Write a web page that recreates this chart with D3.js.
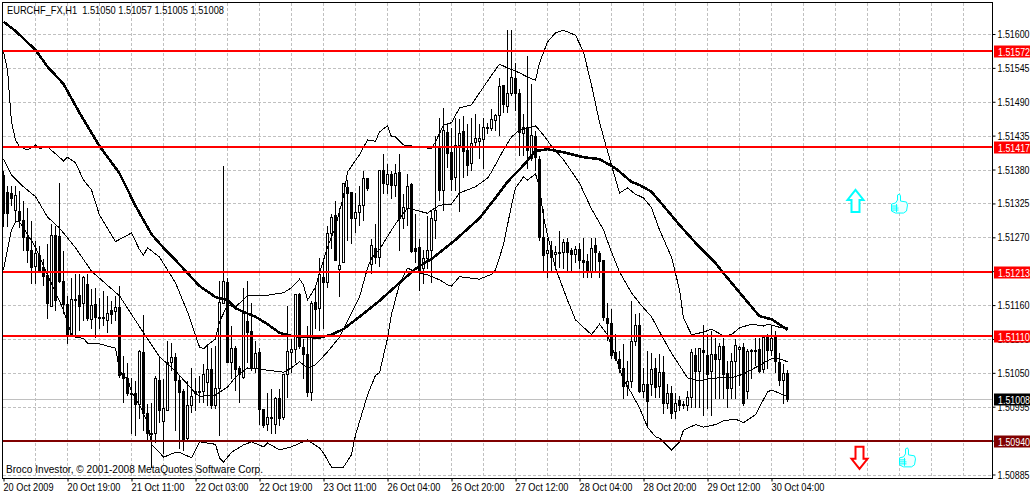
<!DOCTYPE html>
<html>
<head>
<meta charset="utf-8">
<style>
  html, body { margin: 0; padding: 0; background: #fff; }
  svg { display: block; font-family: "Liberation Sans", sans-serif; font-size: 11px; }
</style>
<script src="https://cdn.jsdelivr.net/npm/d3@7"></script>
</head>
<body>
<svg id="chart" width="1030" height="495"></svg>
<script>
// candles, one entry per H1 bar, oldest first
const opens = [1.51371,1.51344,1.51342,1.51314,1.51312,1.51298,1.51271,1.51250,1.51224,1.51241,1.51222,1.51209,1.51158,1.51274,1.51272,1.51199,1.51162,1.51113,1.51170,1.51176,1.51163,1.51194,1.51137,1.51162,1.51141,1.51139,1.51136,1.51152,1.51150,1.51157,1.51050,1.51042,1.51017,1.51017,1.51000,1.51084,1.50985,1.50951,1.50952,1.51038,1.50972,1.50990,1.51068,1.51076,1.51038,1.51021,1.50944,1.50998,1.51021,1.51019,1.51021,1.51035,1.51056,1.50998,1.51025,1.51163,1.51198,1.51068,1.51090,1.51058,1.51043,1.51134,1.51118,1.51058,1.51084,1.50991,1.50967,1.50979,1.50967,1.51009,1.50979,1.51048,1.51084,1.51089,1.51178,1.51092,1.51081,1.51019,1.51165,1.51155,1.51206,1.51198,1.51277,1.51306,1.51219,1.51230,1.51352,1.51344,1.51301,1.51311,1.51322,1.51366,1.51227,1.51253,1.51238,1.51380,1.51357,1.51373,1.51355,1.51376,1.51301,1.51317,1.51357,1.51253,1.51254,1.51220,1.51236,1.51250,1.51298,1.51415,1.51347,1.51441,1.51409,1.51368,1.51420,1.51443,1.51412,1.51390,1.51425,1.51426,1.51430,1.51447,1.51447,1.51460,1.51468,1.51517,1.51483,1.51504,1.51529,1.51504,1.51439,1.51449,1.51399,1.51434,1.51397,1.51271,1.51245,1.51250,1.51243,1.51246,1.51246,1.51262,1.51250,1.51243,1.51251,1.51233,1.51231,1.51215,1.51258,1.51245,1.51233,1.51139,1.51131,1.51084,1.51073,1.51058,1.51029,1.51037,1.51102,1.51128,1.51021,1.51032,1.51032,1.51058,1.51029,1.51051,1.51001,1.51017,1.50988,1.51006,1.50998,1.50998,1.51011,1.51079,1.51053,1.51087,1.51079,1.51053,1.51081,1.51073,1.51094,1.51050,1.51025,1.51069,1.51089,1.51092,1.51021,1.51087,1.51086,1.51089,1.51056,1.51108,1.51087,1.51108,1.51068,1.51038,1.51050];
const highs = [1.51380,1.51355,1.51355,1.51355,1.51347,1.51331,1.51319,1.51298,1.51266,1.51258,1.51236,1.51261,1.51293,1.51290,1.51360,1.51250,1.51176,1.51206,1.51212,1.51212,1.51209,1.51212,1.51188,1.51190,1.51173,1.51185,1.51176,1.51168,1.51176,1.51193,1.51079,1.51068,1.51043,1.51038,1.51089,1.51145,1.51001,1.51003,1.51046,1.51077,1.51042,1.51103,1.51100,1.51084,1.51046,1.51025,1.51038,1.51060,1.51043,1.51046,1.51066,1.51095,1.51092,1.51095,1.51201,1.51387,1.51206,1.51128,1.51095,1.51063,1.51190,1.51201,1.51165,1.51103,1.51092,1.50993,1.51019,1.51025,1.51012,1.51025,1.51050,1.51160,1.51106,1.51180,1.51181,1.51106,1.51128,1.51168,1.51193,1.51238,1.51233,1.51290,1.51309,1.51331,1.51319,1.51360,1.51365,1.51344,1.51344,1.51355,1.51380,1.51368,1.51269,1.51293,1.51380,1.51407,1.51390,1.51380,1.51390,1.51407,1.51342,1.51374,1.51360,1.51309,1.51269,1.51251,1.51306,1.51314,1.51436,1.51465,1.51482,1.51457,1.51449,1.51465,1.51464,1.51468,1.51456,1.51465,1.51472,1.51456,1.51465,1.51457,1.51480,1.51472,1.51530,1.51517,1.51608,1.51608,1.51555,1.51512,1.51472,1.51566,1.51520,1.51444,1.51404,1.51318,1.51271,1.51266,1.51258,1.51282,1.51269,1.51271,1.51254,1.51258,1.51262,1.51271,1.51245,1.51271,1.51271,1.51250,1.51233,1.51165,1.51155,1.51115,1.51087,1.51099,1.51071,1.51168,1.51147,1.51149,1.51060,1.51087,1.51084,1.51076,1.51082,1.51079,1.51034,1.51030,1.51019,1.51014,1.51006,1.51022,1.51090,1.51092,1.51090,1.51129,1.51115,1.51120,1.51108,1.51100,1.51108,1.51071,1.51084,1.51106,1.51095,1.51100,1.51090,1.51090,1.51108,1.51108,1.51108,1.51115,1.51128,1.51120,1.51084,1.51066,1.51057];
const lows = [1.51288,1.51288,1.51322,1.51295,1.51287,1.51250,1.51230,1.51196,1.51196,1.51214,1.51193,1.51139,1.51158,1.51152,1.51198,1.51147,1.51098,1.51112,1.51112,1.51120,1.51136,1.51136,1.51123,1.51108,1.51123,1.51128,1.51116,1.51131,1.51136,1.51043,1.51003,1.51014,1.50952,1.50949,1.50977,1.50957,1.50941,1.50897,1.50938,1.50970,1.50920,1.50990,1.51055,1.50957,1.50928,1.50925,1.50943,1.50987,1.50990,1.51003,1.51003,1.50998,1.50993,1.50993,1.50949,1.51163,1.51068,1.51042,1.51022,1.51003,1.51042,1.51068,1.51055,1.51051,1.50967,1.50962,1.50957,1.50952,1.50952,1.50965,1.50975,1.51011,1.51051,1.51068,1.51090,1.51042,1.51012,1.51006,1.51123,1.51120,1.51123,1.51190,1.51253,1.51233,1.51175,1.51230,1.51266,1.51261,1.51279,1.51290,1.51298,1.51347,1.51212,1.51228,1.51224,1.51342,1.51342,1.51334,1.51337,1.51250,1.51285,1.51290,1.51246,1.51230,1.51185,1.51196,1.51220,1.51198,1.51269,1.51331,1.51314,1.51384,1.51347,1.51347,1.51312,1.51368,1.51371,1.51380,1.51420,1.51399,1.51382,1.51439,1.51444,1.51444,1.51436,1.51473,1.51473,1.51501,1.51477,1.51404,1.51404,1.51382,1.51396,1.51380,1.51266,1.51217,1.51206,1.51217,1.51222,1.51222,1.51220,1.51217,1.51217,1.51230,1.51220,1.51206,1.51206,1.51206,1.51217,1.51206,1.51136,1.51103,1.51074,1.51071,1.51051,1.51009,1.51014,1.51027,1.51095,1.51019,1.51011,1.50962,1.51014,1.51011,1.51011,1.50985,1.50993,1.50977,1.50977,1.50990,1.50993,1.50990,1.50995,1.50995,1.50995,1.50982,1.50993,1.50982,1.51009,1.51009,1.51009,1.50995,1.51009,1.51009,1.51030,1.50998,1.51009,1.51042,1.51063,1.51051,1.51051,1.51058,1.51079,1.51051,1.51030,1.51001,1.51005];
const closes = [1.51309,1.51309,1.51334,1.51339,1.51298,1.51271,1.51250,1.51222,1.51245,1.51217,1.51207,1.51163,1.51274,1.51168,1.51199,1.51162,1.51112,1.51170,1.51168,1.51158,1.51206,1.51139,1.51160,1.51141,1.51139,1.51141,1.51147,1.51145,1.51157,1.51046,1.51042,1.51017,1.51016,1.51000,1.51086,1.50985,1.50952,1.50952,1.51042,1.50990,1.50993,1.51068,1.51076,1.51038,1.51019,1.50943,1.50998,1.51012,1.51017,1.51021,1.51048,1.51056,1.50998,1.51025,1.51165,1.51199,1.51068,1.51090,1.51056,1.51048,1.51147,1.51116,1.51058,1.51082,1.50991,1.50965,1.50979,1.50977,1.51009,1.50977,1.51048,1.51086,1.51089,1.51178,1.51094,1.51081,1.51019,1.51163,1.51154,1.51210,1.51198,1.51277,1.51303,1.51233,1.51225,1.51358,1.51342,1.51301,1.51311,1.51322,1.51366,1.51350,1.51258,1.51238,1.51380,1.51358,1.51373,1.51355,1.51374,1.51301,1.51319,1.51353,1.51248,1.51248,1.51217,1.51236,1.51250,1.51301,1.51314,1.51347,1.51444,1.51407,1.51365,1.51420,1.51439,1.51410,1.51387,1.51423,1.51431,1.51431,1.51449,1.51449,1.51462,1.51468,1.51516,1.51486,1.51504,1.51530,1.51504,1.51441,1.51449,1.51412,1.51436,1.51400,1.51271,1.51241,1.51250,1.51238,1.51246,1.51245,1.51262,1.51246,1.51243,1.51251,1.51233,1.51230,1.51215,1.51253,1.51246,1.51231,1.51141,1.51131,1.51079,1.51074,1.51058,1.51029,1.51037,1.51102,1.51128,1.51021,1.51032,1.51004,1.51056,1.51027,1.51051,1.51001,1.51017,1.50985,1.51001,1.50998,1.51000,1.51011,1.51084,1.51053,1.51090,1.51084,1.51048,1.51081,1.51073,1.51094,1.51048,1.51025,1.51069,1.51095,1.51092,1.51001,1.51086,1.51086,1.51087,1.51053,1.51108,1.51087,1.51106,1.51069,1.51038,1.51050,1.51008];

// thick moving average, bar numbers and prices
const maBars = [0,3,8,11,15,19,24,29,33,37,40,42,46,49,53,56,58,60,63,66,69,72,79,82,85,89,94,99,103,107,109,113,119,123,126,130,133,136,140,145,149,153,157,159,162,165,169,174,178,181,186,189,192,196];
const maValues = [1.51620,1.51605,1.51574,1.51547,1.51519,1.51472,1.51418,1.51374,1.51321,1.51275,1.51253,1.51240,1.51212,1.51191,1.51173,1.51168,1.51155,1.51149,1.51141,1.51129,1.51115,1.51110,1.51107,1.51112,1.51121,1.51141,1.51167,1.51196,1.51219,1.51235,1.51245,1.51266,1.51301,1.51334,1.51360,1.51387,1.51410,1.51413,1.51408,1.51400,1.51397,1.51382,1.51360,1.51355,1.51344,1.51321,1.51290,1.51254,1.51228,1.51204,1.51165,1.51142,1.51137,1.51120];

// bollinger bands
const upperBars = [0,1,2,3,4,6,8,9,11,15,16,18,20,22,24,28,32,34,35,36,39,43,46,49,50,51,53,54,56,58,61,66,70,72,74,75,76,78,79,81,83,85,86,89,91,93,94,96,97,98,100,107,108,110,112,114,117,120,122,124,126,129,131,133,134,136,138,140,143,145,147,149,150,152,154,156,158,160,162,164,167,169,170,172,175,177,180,182,184,187,190,191,194,196];
const upperValues = [1.51571,1.51542,1.51457,1.51428,1.51417,1.51412,1.51420,1.51414,1.51417,1.51394,1.51400,1.51391,1.51363,1.51347,1.51306,1.51263,1.51277,1.51250,1.51241,1.51253,1.51238,1.51196,1.51149,1.51092,1.51089,1.51095,1.51105,1.51133,1.51160,1.51157,1.51175,1.51176,1.51180,1.51188,1.51202,1.51193,1.51168,1.51189,1.51212,1.51254,1.51287,1.51337,1.51376,1.51404,1.51428,1.51426,1.51441,1.51451,1.51433,1.51433,1.51420,1.51414,1.51425,1.51452,1.51456,1.51480,1.51485,1.51514,1.51533,1.51551,1.51545,1.51537,1.51530,1.51525,1.51553,1.51587,1.51602,1.51606,1.51598,1.51571,1.51517,1.51457,1.51433,1.51387,1.51342,1.51350,1.51340,1.51334,1.51318,1.51282,1.51238,1.51185,1.51139,1.51112,1.51116,1.51121,1.51110,1.51112,1.51123,1.51129,1.51126,1.51129,1.51124,1.51123];
const middleBars = [0,2,5,8,10,11,14,16,18,22,29,35,39,43,48,49,53,56,58,61,64,70,72,74,76,78,81,84,89,91,92,94,97,99,101,103,106,107,109,112,114,118,121,122,125,127,129,133,135,137,140,144,147,150,152,154,157,159,162,165,167,171,174,176,179,182,185,187,190,192,194,196];
const middleValues = [1.51397,1.51371,1.51352,1.51336,1.51314,1.51303,1.51285,1.51269,1.51253,1.51215,1.51175,1.51115,1.51076,1.51053,1.51017,1.51012,1.51014,1.51027,1.51043,1.51058,1.51056,1.51051,1.51058,1.51068,1.51058,1.51063,1.51084,1.51108,1.51173,1.51220,1.51236,1.51250,1.51282,1.51301,1.51317,1.51314,1.51309,1.51314,1.51322,1.51324,1.51342,1.51352,1.51366,1.51376,1.51412,1.51433,1.51444,1.51451,1.51436,1.51418,1.51396,1.51358,1.51316,1.51282,1.51246,1.51214,1.51180,1.51163,1.51141,1.51105,1.51082,1.51042,1.51037,1.51040,1.51042,1.51042,1.51048,1.51055,1.51066,1.51073,1.51073,1.51068];
const lowerBars = [0,1,2,3,4,5,8,11,15,16,17,18,20,21,24,28,29,30,31,32,34,36,37,39,40,43,44,47,49,53,54,55,57,60,62,65,66,69,72,76,79,80,82,85,87,88,91,93,94,96,97,99,101,103,106,109,111,112,114,119,122,123,125,127,128,130,131,133,134,135,136,138,141,143,147,149,151,155,157,159,161,163,164,167,169,170,173,175,178,180,183,185,188,191,192,194,196];
const lowerValues = [1.51217,1.51250,1.51282,1.51295,1.51295,1.51285,1.51254,1.51209,1.51152,1.51131,1.51113,1.51108,1.51106,1.51098,1.51097,1.51090,1.51055,1.51043,1.51042,1.51019,1.50998,1.50970,1.50934,1.50921,1.50913,1.50921,1.50921,1.50912,1.50938,1.50934,1.50912,1.50905,1.50921,1.50933,1.50938,1.50930,1.50936,1.50925,1.50930,1.50941,1.50928,1.50920,1.50897,1.50897,1.50917,1.50949,1.51014,1.51046,1.51050,1.51106,1.51145,1.51194,1.51220,1.51214,1.51209,1.51201,1.51193,1.51191,1.51206,1.51202,1.51210,1.51217,1.51258,1.51322,1.51350,1.51368,1.51363,1.51373,1.51352,1.51303,1.51274,1.51220,1.51168,1.51136,1.51112,1.51129,1.51112,1.51039,1.51017,1.50993,1.50962,1.50946,1.50944,1.50925,1.50938,1.50957,1.50966,1.50962,1.50966,1.50972,1.50975,1.50969,1.50982,1.51019,1.51022,1.51017,1.51011];

// axes
const priceTicks = [1.51600,1.51545,1.51490,1.51435,1.51380,1.51325,1.51270,1.51215,1.51160,1.51105,1.51050,1.50995,1.50940,1.50885];
const timeLabels = ["20 Oct 2009","20 Oct 19:00","21 Oct 11:00","22 Oct 03:00","22 Oct 19:00","23 Oct 11:00","26 Oct 04:00","26 Oct 20:00","27 Oct 12:00","28 Oct 04:00","28 Oct 20:00","29 Oct 12:00","30 Oct 04:00"];
const labelBars = timeLabels.map((d, i) => i * 16);
const gridBars = d3.range(8, 241, 8);

// horizontal levels
const levelPrices = [1.51572,1.51417,1.51213,1.51110,1.50940];
const levelColors = ["#ff0000","#ff0000","#ff0000","#ff0000","#800000"];
const lastPrice = 1.51008;

// arrows and thumbs on the right of the last bar
const markerBars = [213,224,214,226];
const markerPrices = [1.51329,1.51324,1.50912,1.50912];
const markerKinds = ["up","thumb","down","thumb"];

const plotLeft = 2.5, plotRight = 992.5, plotTop = 2.5, plotBottom = 478.5;

const xScale = d3.scaleLinear().domain([0, 196]).range([3.5, 787.5]);
const yScale = d3.scaleLinear().domain([1.50885, 1.516]).range([474.5, 34]);
const py = v => Math.round(yScale(v)) + 0.5;

const svg = d3.select("#chart");
const crisp = "crispEdges";

// grid
svg.append("g").selectAll("line").data(priceTicks).join("line")
    .attr("x1", plotLeft).attr("x2", plotRight)
    .attr("y1", d => py(d)).attr("y2", d => py(d))
    .attr("stroke", "#c0c0c0").attr("stroke-dasharray", "3,2").attr("shape-rendering", crisp);
svg.append("g").selectAll("line").data(gridBars).join("line")
    .attr("x1", d => xScale(d)).attr("x2", d => xScale(d))
    .attr("y1", plotTop).attr("y2", plotBottom)
    .attr("stroke", "#c0c0c0").attr("stroke-dasharray", "3,2").attr("shape-rendering", crisp);

// last price line goes under the candles
svg.append("line")
    .attr("x1", plotLeft).attr("x2", plotRight)
    .attr("y1", py(lastPrice)).attr("y2", py(lastPrice))
    .attr("stroke", "#c0c0c0").attr("shape-rendering", crisp);

// candles
const candles = svg.append("g").selectAll("g").data(opens).join("g");
candles.append("line")
    .attr("x1", (d, i) => xScale(i)).attr("x2", (d, i) => xScale(i))
    .attr("y1", (d, i) => py(highs[i])).attr("y2", (d, i) => py(lows[i]))
    .attr("stroke", "#000").attr("shape-rendering", crisp);
candles.append("rect")
    .attr("x", (d, i) => xScale(i) - 1)
    .attr("width", 2)
    .attr("y", (d, i) => py(Math.max(opens[i], closes[i])))
    .attr("height", (d, i) => Math.max(0.01, py(Math.min(opens[i], closes[i])) - py(Math.max(opens[i], closes[i]))))
    .attr("fill", (d, i) => closes[i] >= opens[i] ? "#fff" : "#000")
    .attr("stroke", "#000").attr("shape-rendering", crisp);

// bands and moving average, no antialiasing like the terminal
const drawLine = (bars, values, width) => {
    const line = d3.line().x(d => xScale(d)).y((d, i) => yScale(values[i]));
    svg.append("path").attr("d", line(bars))
        .attr("fill", "none").attr("stroke", "#000").attr("stroke-width", width)
        .attr("shape-rendering", crisp);
};
drawLine(upperBars, upperValues, 1);
drawLine(middleBars, middleValues, 1);
drawLine(lowerBars, lowerValues, 1);
drawLine(maBars, maValues, 2.5);

// levels sit on top of everything in the plot
svg.append("g").selectAll("line").data(levelPrices).join("line")
    .attr("x1", plotLeft).attr("x2", plotRight)
    .attr("y1", d => Math.round(yScale(d))).attr("y2", d => Math.round(yScale(d)))
    .attr("stroke", (d, i) => levelColors[i]).attr("stroke-width", 2).attr("shape-rendering", crisp);

// markers
const arrowUp = "M0,-11L8,-1L4,-1L4,11L-4,11L-4,-1L-8,-1Z";
const arrowDown = "M0,11L8,1L4,1L4,-11L-4,-11L-4,1L-8,1Z";
const thumbOutline = "M-4,-1L-2,-4L-2,-9L0,-10L1,-8L1,-3L7,-2L8,1L7,7L4,9L-4,9L-8,7L-8,0Z";
const thumbFingers = "M-8,2L-2,2M-8,4L-1,4M-8,6L-1,6M-3,0L-3,8";
const markers = svg.append("g").selectAll("g").data(markerBars).join("g")
    .attr("transform", (d, i) => `translate(${xScale(d)},${yScale(markerPrices[i])})`);
markers.filter((d, i) => markerKinds[i] === "up").append("path").attr("d", arrowUp)
    .attr("fill", "#fff").attr("stroke", "#00ffff").attr("stroke-width", 2);
markers.filter((d, i) => markerKinds[i] === "down").append("path").attr("d", arrowDown)
    .attr("fill", "#fff").attr("stroke", "#ff0000").attr("stroke-width", 2);
const thumbs = markers.filter((d, i) => markerKinds[i] === "thumb");
thumbs.append("path").attr("d", thumbOutline).attr("fill", "#f0ffff").attr("stroke", "#00ffff");
thumbs.append("path").attr("d", thumbFingers).attr("fill", "none").attr("stroke", "#00ffff");

// frame
svg.append("rect")
    .attr("x", plotLeft).attr("y", plotTop)
    .attr("width", plotRight - plotLeft).attr("height", plotBottom - plotTop)
    .attr("fill", "none").attr("stroke", "#000").attr("shape-rendering", crisp);

// axes, text squeezed to the narrow widths of the terminal font
const squeeze = (sel, len) => sel.attr("textLength", len).attr("lengthAdjust", "spacingAndGlyphs");

const xAxis = d3.axisBottom(xScale)
    .tickValues(labelBars)
    .tickFormat((d, i) => timeLabels[i])
    .tickSize(3).tickPadding(2);
const xG = svg.append("g").attr("transform", `translate(0,${plotBottom})`).call(xAxis);
xG.select(".domain").remove();
xG.selectAll("text").attr("text-anchor", "start").attr("dx", -0.5).attr("fill", "#000")
    .style("font-family", '"Liberation Sans", sans-serif').style("font-size", "11px");
squeeze(xG.selectAll("text"), (d, i) => i === 0 ? 50 : 53);

const yAxis = d3.axisRight(yScale)
    .tickValues(priceTicks)
    .tickFormat(d3.format(".5f"))
    .tickSize(3).tickPadding(2);
const yG = svg.append("g").attr("transform", `translate(${plotRight},0)`).call(yAxis);
yG.select(".domain").remove();
yG.selectAll("text").attr("fill", "#000")
    .style("font-family", '"Liberation Sans", sans-serif').style("font-size", "11px");
squeeze(yG.selectAll("text"), 32);

// price boxes on the axis
const boxes = levelPrices.concat([lastPrice]);
const boxColors = levelColors.concat(["#000000"]);
const boxG = svg.append("g").selectAll("g").data(boxes).join("g")
    .attr("transform", d => `translate(994,${py(d)})`);
boxG.append("rect").attr("x", 0).attr("y", -6).attr("width", 36).attr("height", 12)
    .attr("fill", (d, i) => boxColors[i]);
squeeze(boxG.append("text").attr("x", 4).attr("y", 4).attr("fill", "#fff")
    .text(d => d3.format(".5f")(d)), 32);

// captions
squeeze(svg.append("text").attr("x", 7).attr("y", 14).attr("fill", "#000")
    .attr("xml:space", "preserve")
    .text("EURCHF_FX,H1  1.51050 1.51057 1.51005 1.51008"), 217);
squeeze(svg.append("text").attr("x", 6).attr("y", 473).attr("fill", "#000")
    .text("Broco Investor, © 2001-2008 MetaQuotes Software Corp."), 257);
</script>
</body>
</html>
